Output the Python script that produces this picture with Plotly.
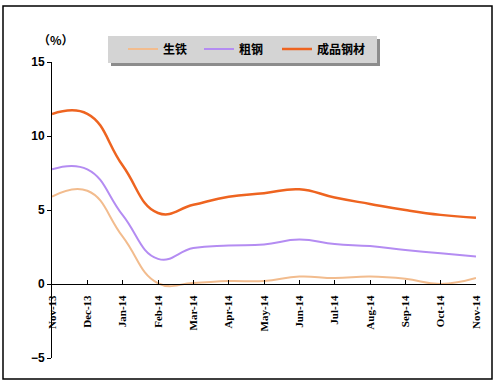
import plotly.graph_objects as go

months = ["Nov-13", "Dec-13", "Jan-14", "Feb-14", "Mar-14", "Apr-14", "May-14",
          "Jun-14", "Jul-14", "Aug-14", "Sep-14", "Oct-14", "Nov-14"]
pig_iron = [5.9, 6.3, 3.2, 0.05, 0.07, 0.2, 0.2, 0.5, 0.4, 0.5, 0.35, 0.0, 0.4]
crude_steel = [7.75, 7.75, 4.65, 1.7, 2.43, 2.6, 2.67, 3.0, 2.7, 2.56, 2.3, 2.07, 1.86]
finished_steel = [11.48, 11.5, 8.0, 4.8, 5.35, 5.9, 6.13, 6.4, 5.84, 5.41, 5.0, 4.67, 4.47]
series_names = ["生铁", "粗钢", "成品钢材"]
y_ticks = [-5, 0, 5, 10, 15]

W, H = 501, 387
L, R, T, B = 52, 476, 62, 358  # plot area pixel box


def px(x):
    return (x - L) / (R - L)


def py(y):
    return (B - y) / (B - T)


fig = go.Figure()
colors = ["#F2BC8E", "#B48CF2", "#EE6420"]
widths = [2, 2, 2.5]
legend_ids = ["legend", "legend2", "legend3"]
legend_x = [123, 199, 277]
for name, vals, c, w, lg in zip(series_names, [pig_iron, crude_steel, finished_steel], colors, widths, legend_ids):
    fig.add_trace(go.Scatter(x=list(range(len(months))), y=vals, name=name, mode="lines", legend=lg,
                             line=dict(color=c, width=w, shape="spline", smoothing=1.3)))

shapes = [
    # outer frame
    dict(type="rect", xref="paper", yref="paper", x0=px(3), x1=px(492), y0=py(379), y1=py(6),
         line=dict(color="black", width=1.5), fillcolor="rgba(0,0,0,0)", layer="below"),
    # legend shadow
    dict(type="rect", xref="paper", yref="paper", x0=px(111), x1=px(380), y0=py(66), y1=py(39),
         line=dict(width=0), fillcolor="#8c8c8c", layer="below"),
    # legend box
    dict(type="rect", xref="paper", yref="paper", x0=px(108), x1=px(377), y0=py(63), y1=py(36),
         line=dict(width=0), fillcolor="#d4d4d4", layer="below"),
]

legend_font = dict(family="Noto Sans CJK SC", size=12, color="black", weight="bold")
legends = {}
for lg, lx in zip(legend_ids, legend_x):
    legends[lg] = dict(orientation="h", x=px(lx), y=py(49), xanchor="left", yanchor="middle",
                       bgcolor="rgba(0,0,0,0)", borderwidth=0, font=legend_font)

fig.update_layout(
    width=W, height=H,
    margin=dict(l=L, r=W - R, t=T, b=H - B, pad=0),
    paper_bgcolor="white", plot_bgcolor="white",
    shapes=shapes,
    showlegend=True,
    annotations=[dict(text="（%）", xref="paper", yref="paper", x=px(56), y=py(39),
                      showarrow=False, xanchor="center", yanchor="middle",
                      font=dict(family="Noto Sans CJK SC", size=12, color="black", weight="bold"))],
    xaxis=dict(range=[0, len(months) - 1], tickmode="array", tickvals=list(range(len(months))),
               ticktext=months, tickangle=-90, anchor="free", position=0.25,
               showline=True, linecolor="black", linewidth=1, ticks="inside", ticklen=4,
               tickcolor="black", showgrid=False, zeroline=False, ticklabelstandoff=6,
               tickfont=dict(family="Liberation Serif", size=11, color="black", weight="bold")),
    yaxis=dict(range=[-5, 15], tickmode="array", tickvals=y_ticks, showline=True,
               linecolor="black", linewidth=1, ticks="outside", ticklen=4, tickcolor="black",
               showgrid=False, zeroline=False,
               tickfont=dict(family="Liberation Sans", size=12, color="black", weight="bold")),
    **legends,
)

fig.write_html("out.html", config={"displayModeBar": False},
               post_script="document.body.style.margin='0';document.body.style.overflow='hidden';")
